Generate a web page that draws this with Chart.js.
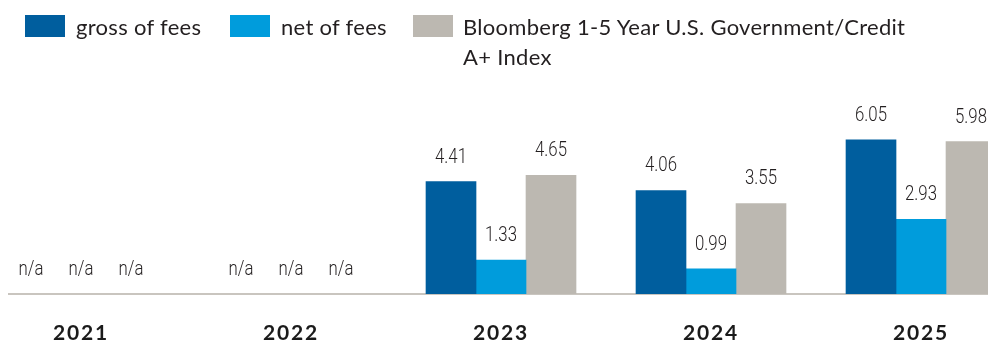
<!DOCTYPE html>
<html>
<head>
<meta charset="utf-8">
<script src="https://cdn.jsdelivr.net/npm/chart.js@4.4.1/dist/chart.umd.min.js"></script>
<style>
  html, body { margin:0; padding:0; background:#fff; }
  #wrap { position:relative; width:988px; height:343px; overflow:hidden; }
  #chart { position:absolute; left:0; top:0; }
  .lg-box { position:absolute; top:15px; width:40px; height:22px; }
  .lg-text { position:absolute; top:12px; font-family:Lato, "Open Sans", sans-serif; font-size:22px; letter-spacing:0.3px; line-height:29.5px; color:#231f20; }
</style>
</head>
<body>
<div id="wrap">
  <canvas id="chart" width="988" height="343"></canvas>
  <div id="legend"></div>
</div>
<script>
/* annual returns (%) */
const years = ['2021', '2022', '2023', '2024', '2025'];
const grossOfFees = [null, null, 4.41, 4.06, 6.05];
const netOfFees   = [null, null, 1.33, 0.99, 2.93];
const indexReturn = [null, null, 4.65, 3.55, 5.98];

const seriesLabels = ['gross of fees', 'net of fees', 'Bloomberg 1-5 Year U.S. Government/Credit A+ Index'];
const seriesColors = ['#005e9e', '#009cdc', '#bcb8b1'];

// legend spots (left of box, left of text, text width)
const legendPos = [[25, 76, 150], [230, 281, 125], [413, 463, 468]];

function toPoints(arr){ return arr.map((v, i) => ({ x: i, y: v })); }

/* ---------- legend (html, so the long label can wrap) ---------- */
function buildLegend(){
  const lg = document.getElementById('legend');
  seriesLabels.forEach((lab, i) => {
    const b = document.createElement('div');
    b.className = 'lg-box';
    b.style.left = legendPos[i][0] + 'px';
    b.style.background = seriesColors[i];
    const t = document.createElement('div');
    t.className = 'lg-text';
    t.style.left = legendPos[i][1] + 'px';
    t.style.width = legendPos[i][2] + 'px';
    t.innerText = lab;
    lg.appendChild(b);
    lg.appendChild(t);
  });
}

/* ---------- value labels above bars, n/a where there's no data ---------- */
function narrowText(ctx, txt, x, y){
  ctx.save();
  ctx.translate(x, y);
  ctx.scale(0.84, 1);   // condensed look
  ctx.fillText(txt, 0, 0);
  ctx.restore();
}

const valueLabels = {
  id: 'valueLabels',
  beforeDraw(chart){ chart.ctx.letterSpacing = '1.8px'; },   // year ticks are spaced out
  beforeDatasetsDraw(chart){ chart.ctx.letterSpacing = '0px'; },
  afterDatasetsDraw(chart){
    const ctx = chart.ctx;
    const zero = chart.scales.y.getPixelForValue(0);
    ctx.save();
    ctx.letterSpacing = '0px';
    ctx.font = '300 20px Roboto, "DejaVu Sans", sans-serif';
    ctx.fillStyle = '#231f20';
    ctx.textAlign = 'center';
    ctx.textBaseline = 'alphabetic';
    chart.data.datasets.forEach((ds, di) => {
      const meta = chart.getDatasetMeta(di);
      meta.data.forEach((el, i) => {
        const v = ds.data[i].y;
        if(v === null) narrowText(ctx, 'n/a', el.x, zero - 19);
        else narrowText(ctx, v.toFixed(2), el.x, el.y - 19);
      });
    });
    ctx.restore();
  }
};

buildLegend();

new Chart(document.getElementById('chart'), {
  type: 'bar',
  data: {
    datasets: [
      { label: seriesLabels[0], data: toPoints(grossOfFees), backgroundColor: seriesColors[0] },
      { label: seriesLabels[1], data: toPoints(netOfFees),   backgroundColor: seriesColors[1] },
      { label: seriesLabels[2], data: toPoints(indexReturn), backgroundColor: seriesColors[2] }
    ]
  },
  options: {
    responsive: false,
    animation: false,
    events: [],
    barThickness: 50,
    borderWidth: 0,
    layout: { padding: { top: 90, left: 9, right: 0, bottom: 0 } },
    plugins: { legend: { display: false }, tooltip: { enabled: false } },
    scales: {
      x: {
        type: 'linear',
        offset: false,
        min: -0.3429,
        max: 4.319,
        grid: { display: false, drawTicks: false },
        border: { display: true, color: '#c9c5bf', width: 2 },
        afterFit: (scale) => { scale.height = 49; },
        ticks: {
          stepSize: 1,
          includeBounds: false,
          autoSkip: false,
          maxRotation: 0,
          padding: 27,
          color: '#1a1a1a',
          font: { family: 'Lato, "Open Sans", sans-serif', size: 21, weight: 'bold' },
          callback: (v) => years[v] || ''
        }
      },
      y: {
        display: false,
        min: 0,
        max: 8
      }
    }
  },
  plugins: [valueLabels]
});
</script>
</body>
</html>
